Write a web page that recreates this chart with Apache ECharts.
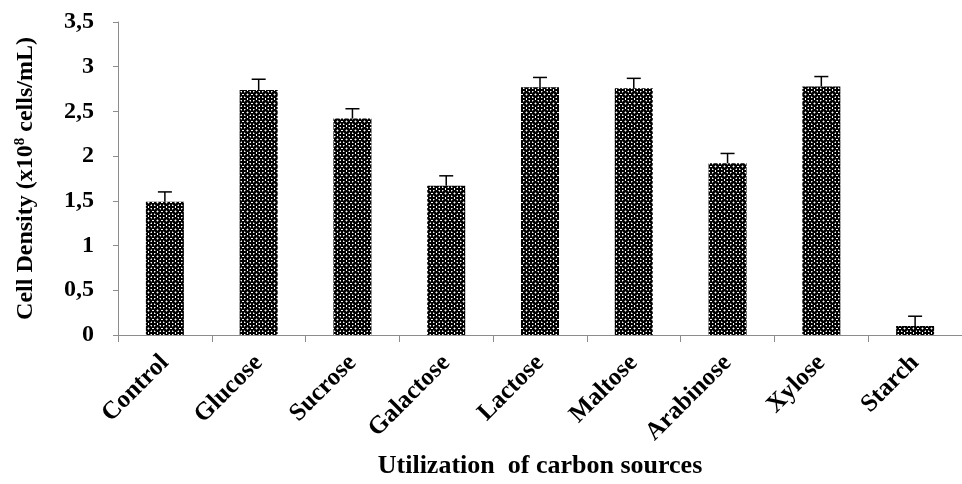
<!DOCTYPE html>
<html><head><meta charset="utf-8">
<script src="https://cdn.jsdelivr.net/npm/echarts@6/dist/echarts.min.js"></script>
<style>html,body{margin:0;padding:0;background:#fff}#c{width:962px;height:484px}</style>
</head><body><div id="c"></div>
<script>
const categories = ['Control','Glucose','Sucrose','Galactose','Lactose','Maltose','Arabinose','Xylose','Starch'];
const values = [1.49, 2.74, 2.42, 1.67, 2.77, 2.76, 1.92, 2.78, 0.10];
const errPlus = [0.11, 0.12, 0.11, 0.11, 0.11, 0.11, 0.11, 0.11, 0.11];
const errMinus = [0, 0, 0, 0, 0, 0, 0, 0, 0.10];
const yTicks = [0, 0.5, 1, 1.5, 2, 2.5, 3, 3.5];

// checkered pattern tile
const tile = document.createElement('canvas');
tile.width = 9; tile.height = 9;
const g = tile.getContext('2d');
g.fillStyle = '#000'; g.fillRect(0,0,9,9);
g.fillStyle = '#fff';
[[1,1],[7,1],[4,4],[1,7],[7,7],[4,0],[0,4],[4,8],[8,4]].forEach(p => g.fillRect(p[0], p[1], 1, 1));
g.fillStyle = '#777';
[[2,1],[6,1],[1,2],[7,2],[1,6],[7,6],[2,7],[6,7],[3,4],[5,4],[4,3],[4,5]].forEach(p => g.fillRect(p[0], p[1], 1, 1));

const font = 'Liberation Serif';
const chart = echarts.init(document.getElementById('c'));
chart.setOption({
  animation: false,
  grid: {left: 118, right: -11, top: 22, bottom: 147},
  xAxis: {
    type: 'category', data: categories,
    axisLine: {lineStyle: {color: '#8c8c8c', width: 1}},
    axisTick: {show: true, length: 7, alignWithLabel: false, lineStyle: {color: '#8c8c8c'}},
    axisLabel: {rotate: 45, interval: 0, margin: 24, fontFamily: font, fontWeight: 'bold', fontSize: 25, color: '#000'},
    name: 'Utilization  of carbon sources', nameLocation: 'middle', nameGap: 118,
    nameTextStyle: {fontFamily: font, fontWeight: 'bold', fontSize: 26, color: '#000'}
  },
  yAxis: {
    type: 'value', min: 0, max: 3.5, interval: 0.5,
    splitLine: {show: false},
    axisLine: {show: true, lineStyle: {color: '#8c8c8c', width: 1}},
    axisTick: {show: true, length: 5, lineStyle: {color: '#8c8c8c'}},
    axisLabel: {margin: 24, fontFamily: font, fontWeight: 'bold', fontSize: 24, color: '#000',
      formatter: v => String(v).replace('.', ',')},
    name: 'Cell Density (x10{s|8} cells/mL)', nameLocation: 'middle', nameGap: 80,
    nameTextStyle: {fontFamily: font, fontWeight: 'bold', fontSize: 24, color: '#000',
      rich: {s: {fontFamily: font, fontWeight: 'bold', fontSize: 15, color: '#000', verticalAlign: 'top', padding: [0,0,10,0]}}}
  },
  series: [{
    type: 'bar', data: values, barWidth: 38,
    itemStyle: {color: {image: tile, repeat: 'repeat'}}
  }, {
    type: 'custom',
    data: values.map((v, i) => [i, v, errPlus[i], errMinus[i]]),
    renderItem: (params, api) => {
      const i = api.value(0), v = api.value(1);
      const top = api.coord([i, v + api.value(2)]);
      const bot = api.coord([i, v - api.value(3)]);
      const hw = 7;
      return {type: 'group', children: [
        {type: 'line', shape: {x1: top[0], y1: top[1], x2: bot[0], y2: bot[1]}, style: {stroke: '#000', lineWidth: 1.5}},
        {type: 'line', shape: {x1: top[0]-hw, y1: top[1], x2: top[0]+hw, y2: top[1]}, style: {stroke: '#000', lineWidth: 1.5}}
      ]};
    },
    z: 5
  }]
});
</script></body></html>
